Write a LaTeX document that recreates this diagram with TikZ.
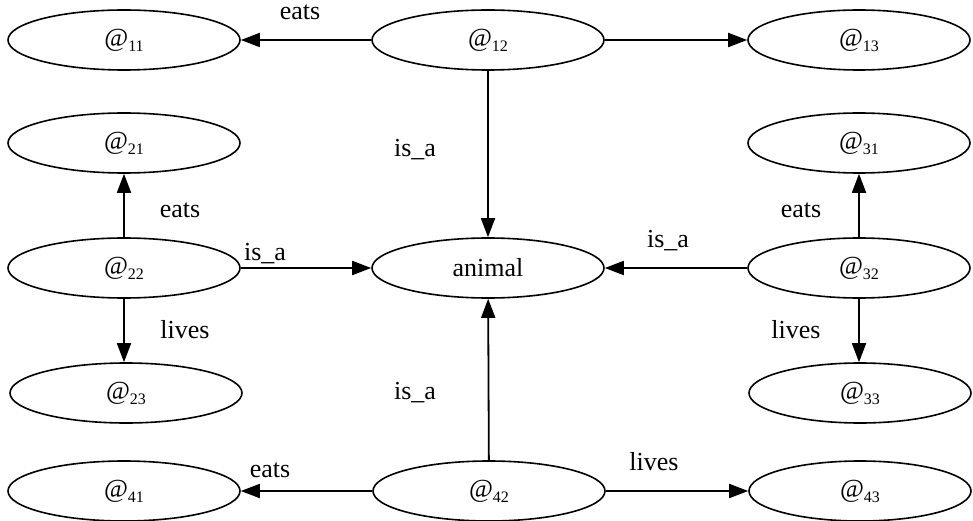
\documentclass[tikz,border=0pt]{standalone}
\usepackage{fontspec}
\setmainfont{Liberation Serif}
\newfontfamily\tms{Liberation Serif}
\usetikzlibrary{arrows.meta,shapes.geometric}
\newcommand{\atsub}[1]{@\raisebox{-5pt}{\fontsize{16}{16}\selectfont #1}}
\tikzset{
  ell/.style={draw, line width=1.6pt, ellipse, minimum width=232, minimum height=60, inner sep=0pt, font=\tms\fontsize{26}{30}\selectfont},
  rell/.style={ell, minimum width=222},
  conn/.style={line width=1.8pt, -{Triangle[length=19,width=14]}},
  lbl/.style={font=\tms\fontsize{26}{30}\selectfont, inner sep=0pt}
}
\begin{document}
\begin{tikzpicture}[x=1pt,y=-1pt]
\useasboundingbox (0,0) rectangle (973,521);
\node[ell] (n11) at (124,40) {\atsub{11}};
\node[ell] (n12) at (488,40) {\atsub{12}};
\node[rell] (n13) at (859,40) {\atsub{13}};
\node[ell] (n21) at (124,143) {\atsub{21}};
\node[rell] (n31) at (859,143) {\atsub{31}};
\node[ell] (n22) at (124,268) {\atsub{22}};
\node[ell] (an) at (488,268) {animal};
\node[rell] (n32) at (859,268) {\atsub{32}};
\node[ell] (n23) at (126,393) {\atsub{23}};
\node[rell] (n33) at (860,393) {\atsub{33}};
\node[ell] (n41) at (124,491) {\atsub{41}};
\node[ell] (n42) at (489,491) {\atsub{42}};
\node[rell] (n43) at (860,491) {\atsub{43}};

\draw[conn] (n12) -- (n11);
\draw[conn] (n12) -- (n13);
\draw[conn] (n12) -- (an);
\draw[conn] (n22.north) -- (n21.south);
\draw[conn] (n22) -- (an);
\draw[conn] (n22.south) -- (n22.south |- n23.north);
\draw[conn] (n32.north) -- (n31.south);
\draw[conn] (n32) -- (an);
\draw[conn] (n32.south) -- (n32.south |- n33.north);
\draw[conn] (n42) -- (an);
\draw[conn] (n42) -- (n41);
\draw[conn] (n42) -- (n43);

\node[lbl] (l1) at (300,12) {eats};
\node[lbl] (l2) at (415,150) {is\_a};
\node[lbl] (l3) at (180,210) {eats};
\node[lbl] (l4) at (265,254) {is\_a};
\node[lbl] (l5) at (185,330) {lives};
\node[lbl] (l6) at (801,210) {eats};
\node[lbl] (l7) at (668,241) {is\_a};
\node[lbl] (l8) at (796,330) {lives};
\node[lbl] (l9) at (415,393) {is\_a};
\node[lbl] (l10) at (270,470) {eats};
\node[lbl] (l11) at (654,462) {lives};
\end{tikzpicture}
\end{document}
